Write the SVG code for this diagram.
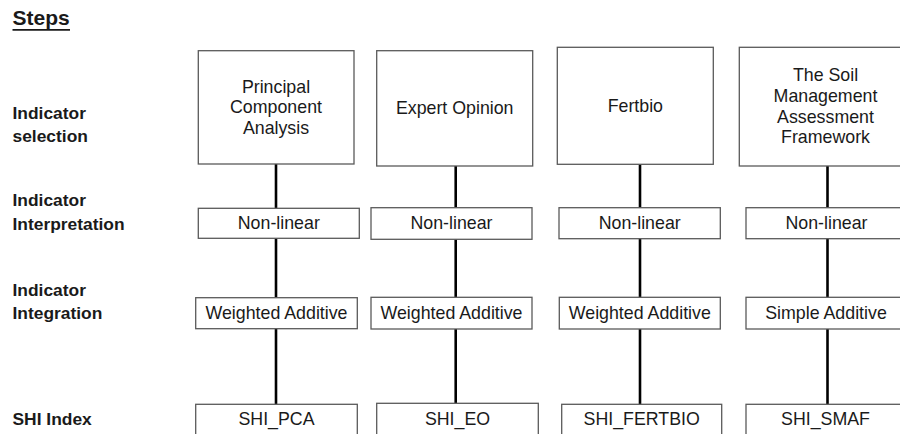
<svg xmlns="http://www.w3.org/2000/svg" width="900" height="434" viewBox="0 0 900 434">
<style>
.box{fill:#fff;stroke:#5a5a5a;stroke-width:1.3}
.t{font-family:"Liberation Sans",Arial,sans-serif;font-size:17.8px;fill:#1a1a1a;text-anchor:middle}
.lbl{font-family:"Liberation Sans",Arial,sans-serif;font-size:17.4px;font-weight:bold;fill:#1a1a1a}
.con{stroke:#000;stroke-width:2.6;fill:none}
</style>
<rect width="900" height="434" fill="#fff"/>
<g id="title">
<text x="12.5" y="25" class="lbl" style="font-size:21px">Steps</text>
<line x1="12.5" y1="29.8" x2="70" y2="29.8" stroke="#1a1a1a" stroke-width="1.7"/>
</g>
<g id="row-labels">
<text class="lbl" x="12.5" y="119">Indicator</text>
<text class="lbl" x="12.5" y="141.5">selection</text>
<text class="lbl" x="12.5" y="206">Indicator</text>
<text class="lbl" x="12.5" y="229.5">Interpretation</text>
<text class="lbl" x="12.5" y="295.5">Indicator</text>
<text class="lbl" x="12.5" y="318.5">Integration</text>
<text class="lbl" x="12.5" y="425">SHI Index</text>
</g>
<g id="connectors">
<line class="con" x1="276" y1="164" x2="276" y2="208.3"/>
<line class="con" x1="276" y1="238.3" x2="276" y2="297.7"/>
<line class="con" x1="276" y1="328.7" x2="276" y2="404.3"/>
<line class="con" x1="455.7" y1="166" x2="455.7" y2="207.7"/>
<line class="con" x1="455.7" y1="239.3" x2="455.7" y2="297.3"/>
<line class="con" x1="455.7" y1="329" x2="455.7" y2="403.3"/>
<line class="con" x1="640" y1="164.3" x2="640" y2="207.7"/>
<line class="con" x1="640" y1="238.7" x2="640" y2="297.3"/>
<line class="con" x1="640" y1="329" x2="640" y2="404.3"/>
<line class="con" x1="827.5" y1="166" x2="827.5" y2="207.7"/>
<line class="con" x1="827.5" y1="238.7" x2="827.5" y2="297.3"/>
<line class="con" x1="827.5" y1="329" x2="827.5" y2="404.3"/>
</g>
<g id="pca">
<rect class="box" x="198.3" y="50.7" width="155.7" height="113.3"/>
<text class="t" x="276" y="92.7">Principal</text>
<text class="t" x="276" y="113.3">Component</text>
<text class="t" x="276" y="133.5">Analysis</text>
</g>
<g id="pca-interp">
<rect class="box" x="198.3" y="208.3" width="161" height="30"/>
<text class="t" x="278.8" y="229.3">Non-linear</text>
</g>
<g id="pca-integ">
<rect class="box" x="195.7" y="297.7" width="161.6" height="31"/>
<text class="t" x="276.5" y="318.5">Weighted Additive</text>
</g>
<g id="pca-shi">
<rect class="box" x="195.7" y="404.3" width="161.6" height="40"/>
<text class="t" x="276.5" y="425">SHI_PCA</text>
</g>
<g id="eo">
<rect class="box" x="376.7" y="50.7" width="156" height="115.3"/>
<text class="t" x="454.7" y="114">Expert Opinion</text>
</g>
<g id="eo-interp">
<rect class="box" x="371" y="207.7" width="161" height="31.6"/>
<text class="t" x="451.5" y="229.3">Non-linear</text>
</g>
<g id="eo-integ">
<rect class="box" x="371" y="297.3" width="161" height="31.7"/>
<text class="t" x="451.5" y="318.5">Weighted Additive</text>
</g>
<g id="eo-shi">
<rect class="box" x="376.7" y="403.3" width="161.6" height="40"/>
<text class="t" x="457.5" y="425">SHI_EO</text>
</g>
<g id="fertbio">
<rect class="box" x="557.3" y="47.3" width="156" height="117"/>
<text class="t" x="635.3" y="111.7">Fertbio</text>
</g>
<g id="fertbio-interp">
<rect class="box" x="559" y="207.7" width="161.3" height="31"/>
<text class="t" x="639.7" y="229.3">Non-linear</text>
</g>
<g id="fertbio-integ">
<rect class="box" x="559.3" y="297.3" width="161" height="31.7"/>
<text class="t" x="639.8" y="318.5">Weighted Additive</text>
</g>
<g id="fertbio-shi">
<rect class="box" x="561.7" y="404.3" width="160" height="40"/>
<text class="t" x="641.7" y="425">SHI_FERTBIO</text>
</g>
<g id="smaf">
<rect class="box" x="739.3" y="47.3" width="172" height="118.7"/>
<text class="t" x="825.5" y="81">The Soil</text>
<text class="t" x="825.5" y="101.7">Management</text>
<text class="t" x="825.5" y="122.5">Assessment</text>
<text class="t" x="825.5" y="142.7">Framework</text>
</g>
<g id="smaf-interp">
<rect class="box" x="746" y="207.7" width="161" height="31"/>
<text class="t" x="826.5" y="229.3">Non-linear</text>
</g>
<g id="smaf-integ">
<rect class="box" x="746" y="297.3" width="161" height="31.7"/>
<text class="t" x="826" y="318.5">Simple Additive</text>
</g>
<g id="smaf-shi">
<rect class="box" x="746" y="404.3" width="161" height="40"/>
<text class="t" x="825.5" y="425">SHI_SMAF</text>
</g>
</svg>
